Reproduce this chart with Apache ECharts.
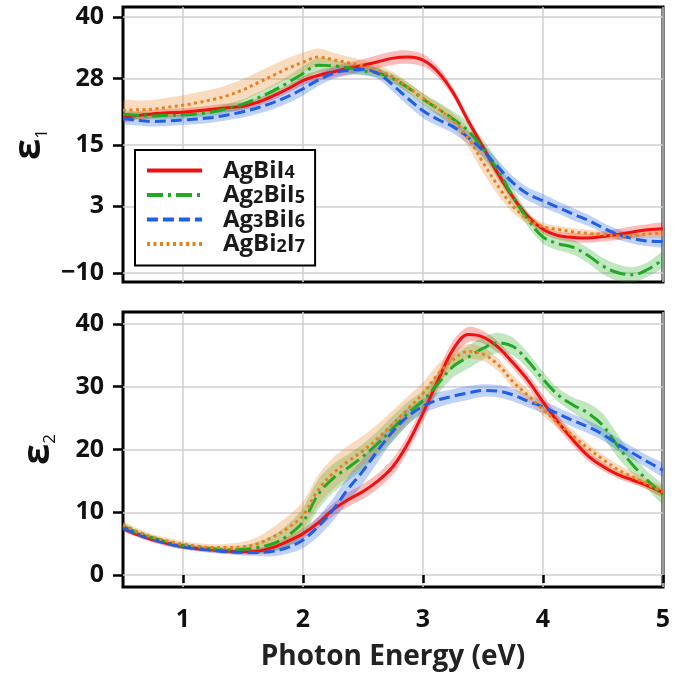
<!DOCTYPE html>
<html><head><meta charset="utf-8">
<script src="https://cdn.jsdelivr.net/npm/echarts@6/dist/echarts.min.js"></script>
<style>html,body{margin:0;padding:0;background:#fff}#c{width:675px;height:681px}</style>
</head><body><div id="c"></div>
<script>
// Photon energy grid (eV)
const energy = [0.5,0.625,0.75,0.875,1.0,1.125,1.25,1.375,1.5,1.625,1.75,1.875,2.0,2.125,2.25,2.375,2.5,2.625,2.75,2.875,3.0,3.125,3.25,3.375,3.5,3.625,3.75,3.875,4.0,4.125,4.25,4.375,4.5,4.625,4.75,4.875,5.0];

// epsilon_1 (real part)
const eps1_AgBiI4  = [20.3,20.8,21.1,21.3,21.4,21.7,22.0,22.3,22.6,23.4,24.6,26.0,27.6,28.6,29.3,30.0,30.6,31.3,32.0,32.2,31.6,29.3,25.3,19.8,14.6,9.4,4.8,1.0,-1.5,-2.7,-3.1,-3.2,-2.9,-2.5,-2.0,-1.6,-1.4];
const eps1_Ag2BiI5 = [21.0,20.8,20.7,20.8,20.9,21.1,21.5,22.2,23.0,24.2,25.6,27.2,29.0,30.6,30.5,30.1,29.5,29.1,28.0,26.2,24.0,22.1,20.1,17.8,14.3,10.0,4.9,0.4,-3.0,-4.3,-5.0,-6.6,-8.7,-10.0,-10.4,-9.3,-7.4];
const eps1_Ag3BiI6 = [20.2,19.8,19.6,19.7,19.9,20.1,20.4,20.9,21.5,22.3,23.3,24.5,26.0,27.7,29.0,29.6,29.8,29.0,26.7,24.1,21.7,20.0,18.6,16.5,13.9,10.7,7.6,5.4,4.1,2.8,1.5,0.3,-1.2,-2.5,-3.3,-3.8,-3.9];
const eps1_AgBi2I7 = [21.8,21.9,22.0,22.4,22.8,23.3,23.9,24.7,25.8,27.2,28.6,30.0,31.2,32.2,31.7,31.1,30.5,29.6,28.3,26.3,24.2,22.1,19.8,16.4,11.6,7.0,3.0,0.5,-1.0,-1.5,-2.0,-2.3,-2.5,-2.8,-2.7,-2.4,-2.2];

// uncertainty half-widths of epsilon_1
const err1_AgBiI4  = [0.8,0.8,0.8,0.8,0.8,0.8,0.8,0.8,0.8,0.8,0.8,0.8,0.9,1.0,1.1,1.2,1.2,1.3,1.3,1.3,1.2,1.1,0.9,0.9,0.9,0.9,0.8,0.8,0.8,0.8,0.9,0.9,1.0,1.1,1.1,1.1,1.1];
const err1_Ag2BiI5 = [0.7,0.7,0.7,0.7,0.7,0.7,0.8,0.9,1.0,1.1,1.2,1.3,1.4,1.4,1.2,1.0,0.9,0.9,0.9,1.0,1.1,1.3,1.5,1.7,1.8,1.8,1.6,1.4,1.3,1.3,1.4,1.5,1.6,1.6,1.5,1.4,1.4];
const err1_Ag3BiI6 = [1.0,1.0,1.0,1.0,1.0,1.0,1.0,1.0,1.1,1.2,1.3,1.3,1.3,1.2,1.1,1.0,1.0,1.1,1.3,1.4,1.4,1.3,1.3,1.3,1.3,1.3,1.3,1.3,1.3,1.2,1.2,1.1,1.0,1.0,1.0,1.0,1.0];
const err1_AgBi2I7 = [1.8,1.8,1.8,1.9,1.9,2.0,2.0,2.1,2.1,2.1,2.1,2.0,1.9,1.7,1.4,1.2,1.1,1.0,1.0,1.0,1.0,1.1,1.4,1.8,2.0,1.8,1.3,1.0,0.8,0.7,0.7,0.7,0.7,0.7,0.7,0.7,0.7];

// epsilon_2 (imaginary part)
const eps2_AgBiI4  = [7.4,6.4,5.6,5.0,4.5,4.2,4.0,3.8,3.7,3.8,4.4,5.4,6.6,8.3,10.4,12.0,13.3,15.0,17.3,21.0,25.8,31.0,35.9,38.3,37.9,36.3,33.8,31.0,27.6,24.4,21.5,19.0,17.3,16.0,15.1,14.2,13.1];
const eps2_Ag2BiI5 = [7.8,6.7,5.9,5.2,4.7,4.4,4.2,4.0,4.1,4.4,5.0,6.3,8.5,12.8,15.4,17.1,18.9,21.0,23.4,25.8,27.8,30.5,33.2,34.7,36.1,37.0,36.4,34.1,31.2,28.7,27.1,25.8,23.8,20.5,17.5,15.0,12.8];
const eps2_Ag3BiI6 = [7.5,6.5,5.7,5.0,4.5,4.2,3.9,3.7,3.6,3.6,3.8,4.4,5.6,7.7,10.4,13.7,16.6,19.9,22.9,25.3,26.9,27.9,28.5,29.0,29.4,29.3,28.7,27.7,26.8,25.7,24.6,23.6,22.4,20.8,19.4,18.0,16.7];
const eps2_AgBi2I7 = [8.0,6.9,6.0,5.4,4.9,4.6,4.4,4.4,4.5,5.0,6.1,7.5,9.5,13.5,16.2,18.1,19.8,21.8,24.1,26.5,28.9,32.0,34.3,35.6,35.2,33.5,30.8,28.6,26.4,24.2,22.2,20.2,18.4,16.8,15.6,14.4,13.2];

// uncertainty half-widths of epsilon_2
const err2_AgBiI4  = [0.4,0.4,0.4,0.4,0.4,0.4,0.4,0.4,0.4,0.5,0.6,0.7,0.8,0.9,1.0,1.1,1.2,1.2,1.3,1.3,1.4,1.4,1.4,1.2,1.0,0.9,0.9,1.0,1.1,1.0,0.9,0.8,0.7,0.6,0.6,0.6,0.6];
const err2_Ag2BiI5 = [0.4,0.4,0.4,0.4,0.4,0.4,0.4,0.5,0.6,0.9,1.3,1.8,2.2,2.4,2.3,2.1,2.0,2.0,2.0,1.8,1.6,1.6,1.7,1.8,1.8,1.6,1.4,1.3,1.2,1.1,1.2,1.6,1.9,1.8,1.5,1.4,1.4];
const err2_Ag3BiI6 = [0.4,0.4,0.4,0.4,0.4,0.4,0.4,0.4,0.5,0.6,0.8,1.0,1.3,1.6,1.8,2.0,2.0,1.8,1.5,1.3,1.2,1.2,1.1,1.1,1.0,1.0,1.0,1.0,1.0,1.0,1.0,1.0,1.0,1.0,1.0,1.0,1.0];
const err2_AgBi2I7 = [0.5,0.5,0.5,0.5,0.5,0.5,0.5,0.6,0.8,1.1,1.5,1.9,2.2,2.4,2.5,2.5,2.4,2.3,2.2,2.0,1.8,1.6,1.4,1.2,1.1,1.0,1.0,1.0,1.0,0.9,0.9,0.8,0.8,0.8,0.8,0.8,0.8];

// tick values
const xTicks = [1,2,3,4,5];
const y1Ticks = [-10,3,15,28,40];
const y2Ticks = [0,10,20,30,40];

const seriesNames = ['AgBiI4','Ag2BiI5','Ag3BiI6','AgBi2I7'];
const legendLabels = ['{n|AgBiI}{s|4}','{n|Ag}{s|2}{n|BiI}{s|5}','{n|Ag}{s|3}{n|BiI}{s|6}','{n|AgBi}{s|2}{n|I}{s|7}'];

const FONT = 'Open Sans';
const colors = ['#f01010','#22a822','#1f5fe8','#e8801e'];
const dashes = ['solid',[16,5,3,5],[11,5],[3,3.5]];
const eps1 = [eps1_AgBiI4, eps1_Ag2BiI5, eps1_Ag3BiI6, eps1_AgBi2I7];
const err1 = [err1_AgBiI4, err1_Ag2BiI5, err1_Ag3BiI6, err1_AgBi2I7];
const eps2 = [eps2_AgBiI4, eps2_Ag2BiI5, eps2_Ag3BiI6, eps2_AgBi2I7];
const err2 = [err2_AgBiI4, err2_Ag2BiI5, err2_Ag3BiI6, err2_AgBi2I7];

function hexA(hex, a){
  const r=parseInt(hex.slice(1,3),16),g=parseInt(hex.slice(3,5),16),b=parseInt(hex.slice(5,7),16);
  return 'rgba('+r+','+g+','+b+','+a+')';
}

function bandSeries(name, vals, errs, color, gi){
  return {
    type:'custom', name: name+' band', coordinateSystem:'cartesian2d',
    xAxisIndex: gi, yAxisIndex: gi, clip: true, silent: true, z: 1,
    data: energy.map((e,i)=>[e, vals[i]-errs[i], vals[i]+errs[i]]),
    encode:{x:0, y:[1,2]},
    renderItem: function(params, api){
      if (params.dataIndex !== 0) return null;
      const n = energy.length;
      const up = [], lo = [];
      for (let i=0;i<n;i++){
        up.push(api.coord([api.value(0,i), api.value(2,i)]));
        lo.push(api.coord([api.value(0,i), api.value(1,i)]));
      }
      const pts = up.concat(lo.reverse());
      return {type:'polygon', shape:{points: pts, smooth: 0.3}, style:{fill: hexA(color,0.28), stroke:'none'}};
    }
  };
}
function lineSeries(name, vals, color, dash, gi){
  return {
    type:'line', name: name, xAxisIndex: gi, yAxisIndex: gi, z: 3,
    data: energy.map((e,i)=>[e, vals[i]]),
    showSymbol:false, symbol:'none', smooth:0.35,
    lineStyle:{color: color, width: 3, type: dash, cap:'butt'},
    itemStyle:{color: color}
  };
}

const series = [];
for (let k=0;k<4;k++){ series.push(bandSeries(seriesNames[k], eps1[k], err1[k], colors[k], 0)); }
for (let k=0;k<4;k++){ series.push(bandSeries(seriesNames[k], eps2[k], err2[k], colors[k], 1)); }
for (let k=0;k<4;k++){ series.push(lineSeries(seriesNames[k], eps1[k], colors[k], dashes[k], 0)); }
for (let k=0;k<4;k++){ series.push(lineSeries(seriesNames[k], eps2[k], colors[k], dashes[k], 1)); }

const tickFmt = v => v < 0 ? '\u2212' + Math.abs(v) : String(v);
const splitStyle = {show:true, lineStyle:{color:'#cfcfcf', width:1.5}};

function yAxis(gi, min, max, ticks, sub){
  return {
    type:'value', gridIndex: gi, min: min, max: max,
    axisLine:{show:false},
    axisTick:{show:true, customValues: ticks, length:10, lineStyle:{color:'#000', width:2.5}},
    axisLabel:{show:true, customValues: ticks, formatter: tickFmt, color:'#111', fontFamily:FONT, fontWeight:'bold', fontSize:25, margin:19},
    splitLine: splitStyle,
    name: '{e|\u03b5}{s|'+sub+'}', nameLocation:'middle', nameRotate:90, nameGap:64,
    nameTextStyle:{rich:{
      e:{fontFamily:FONT, fontWeight:'bold', fontSize:38, color:'#111', lineHeight:40, verticalAlign:'top'},
      s:{fontFamily:FONT, fontSize:17, color:'#111', lineHeight:6, verticalAlign:'bottom'}
    }}
  };
}

const option = {
  animation:false,
  backgroundColor:'#fff',
  grid:[
    {left:123, right:12, top:7, height:275, show:true, borderColor:'#000', borderWidth:3, backgroundColor:'transparent'},
    {left:123, right:12, top:312, height:275, show:true, borderColor:'#000', borderWidth:3, backgroundColor:'transparent'}
  ],
  xAxis:[
    {type:'value', gridIndex:0, min:0.5, max:5,
     axisLine:{show:false}, axisTick:{show:false, customValues:xTicks},
     axisLabel:{show:false, customValues:xTicks}, splitLine: splitStyle},
    {type:'value', gridIndex:1, min:0.5, max:5,
     axisLine:{show:false},
     axisTick:{show:true, customValues:xTicks, length:8, lineStyle:{color:'#000', width:2.5}},
     axisLabel:{show:true, customValues:xTicks, color:'#111', fontFamily:FONT, fontWeight:'bold', fontSize:25, margin:20},
     splitLine: splitStyle,
     name:'Photon Energy (eV)', nameLocation:'middle', nameGap:56,
     nameTextStyle:{fontFamily:FONT, fontWeight:'bold', fontSize:28, color:'#222'}}
  ],
  yAxis:[ yAxis(0, -11.8, 42, y1Ticks, '1'), yAxis(1, -1.9, 41.9, y2Ticks, '2') ],
  legend:{
    data: seriesNames, orient:'vertical', left:135, top:150,
    itemWidth:55, itemHeight:14, itemGap:0.5,
    itemStyle:{opacity:0, color:'transparent', borderWidth:0},
    lineStyle:{width:4},
    borderColor:'#000', borderWidth:2, borderRadius:0, padding:[9,10,9,10],
    backgroundColor:'#fff',
    formatter: function(name){ return legendLabels[seriesNames.indexOf(name)]; },
    textStyle:{fontFamily:FONT, fontSize:24, fontWeight:'bold', color:'#1a1a1a', padding:[0,0,0,16],
      rich:{
        n:{fontFamily:FONT, fontSize:24, fontWeight:'bold', color:'#1a1a1a', lineHeight:23, verticalAlign:'top'},
        s:{fontFamily:FONT, fontSize:18, fontWeight:'bold', color:'#1a1a1a', lineHeight:4, verticalAlign:'bottom'}
      }}
  },
  series: series
};

const chart = echarts.init(document.getElementById('c'), null, {renderer:'canvas'});
chart.setOption(option);
</script>
</body></html>
